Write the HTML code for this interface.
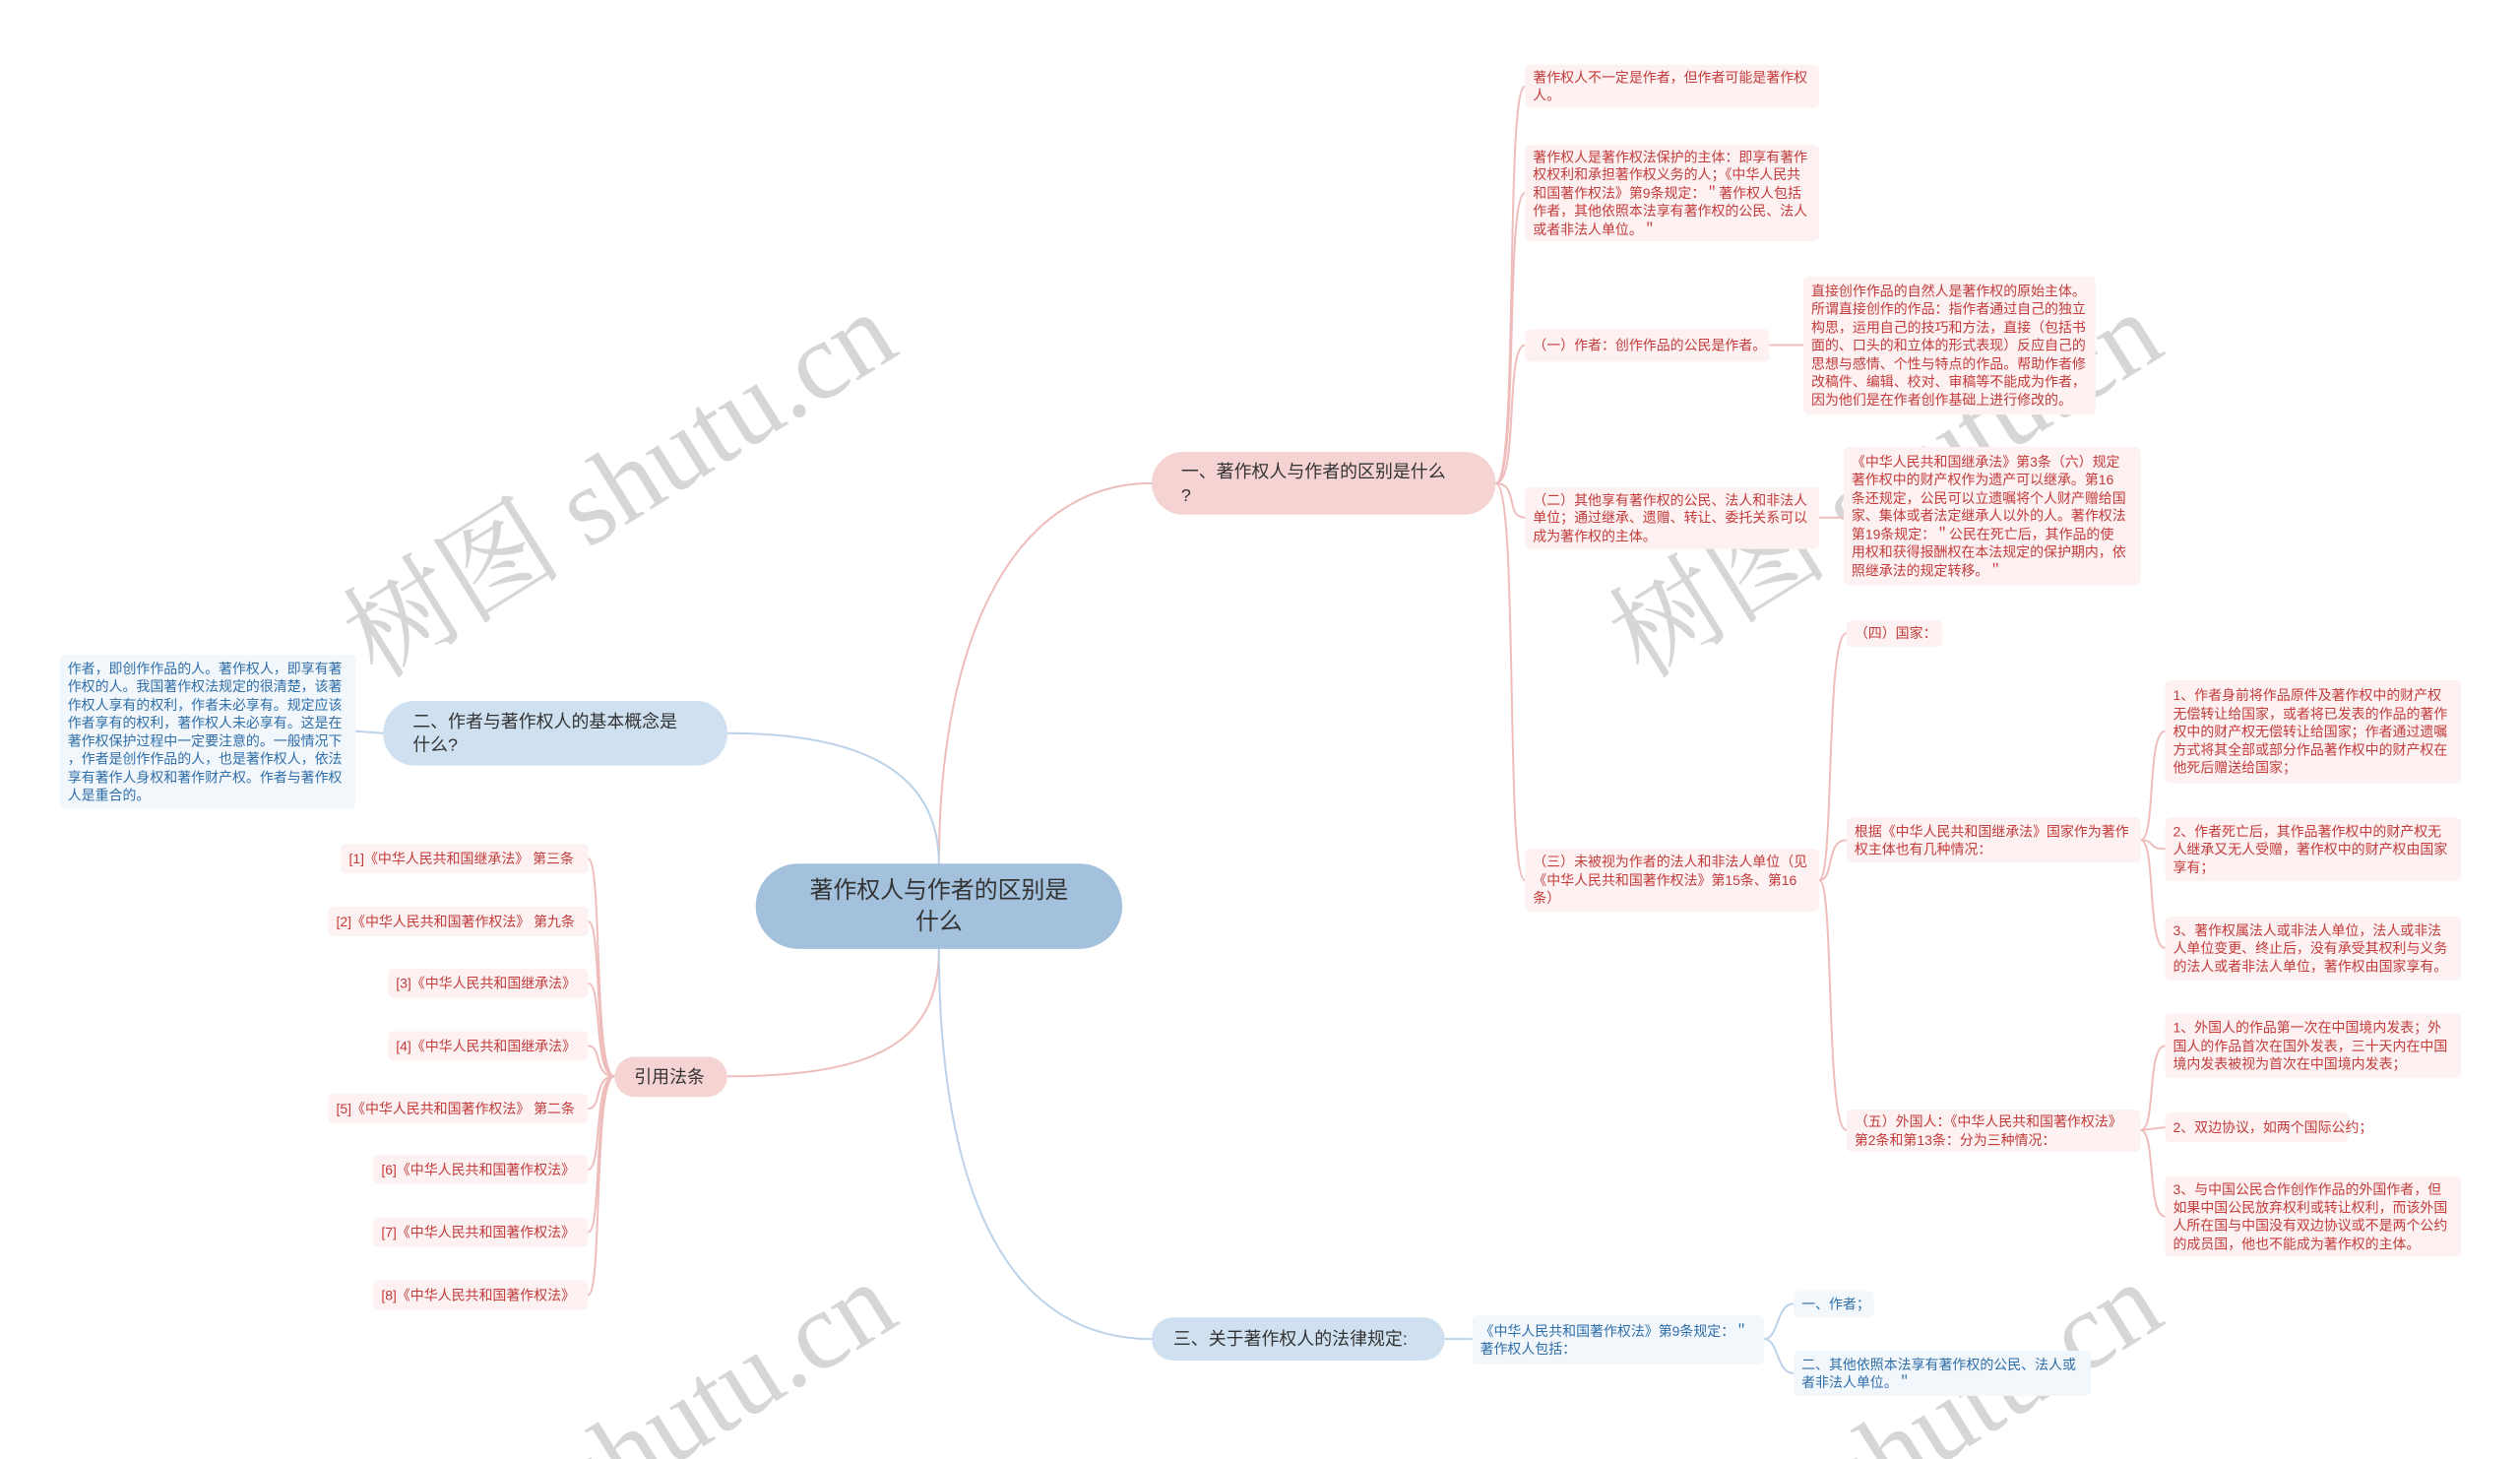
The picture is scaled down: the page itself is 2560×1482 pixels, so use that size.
<!DOCTYPE html>
<html style="overflow:hidden;width:2560px;height:1482px"><head><meta charset="utf-8">
<style>
*{margin:0;padding:0;box-sizing:border-box}
html,body{width:2560px;height:1482px;overflow:hidden;background:#fff}
#c{position:relative;width:2560px;height:1482px;overflow:hidden;font-family:"Liberation Sans","Noto Sans CJK SC",sans-serif}
#s{position:absolute;left:0;top:0;width:2560px;height:1482px;transform:scale(0.9957);transform-origin:0 0}
.n{position:absolute;display:flex;align-items:center;white-space:nowrap}
.lp{background:#fdf1f1;color:#c33b3b;font-size:14px;line-height:18.5px;padding:0 8px;border-radius:5px}
.lb{background:#f2f7fc;color:#2f6ea8;font-size:14px;line-height:18.5px;padding:0 8px;border-radius:5px}
.bp{background:#f6d3d3;color:#333;font-size:18px;line-height:24px;padding:0 30px;border-radius:32px}
.bb{background:#cfe0f0;color:#333;font-size:18px;line-height:24px;padding:0 30px;border-radius:32px}
svg{position:absolute;left:0;top:0}
</style></head><body><div id="c">
<svg width="2560" height="1482" style="overflow:hidden">
<g font-family="Liberation Serif, Noto Serif CJK SC, serif" font-size="112" fill="rgba(200,200,200,0.75)" text-anchor="middle" dominant-baseline="middle">
<text transform="translate(636,503) rotate(-32)">树图 shutu.cn</text>
<text transform="translate(1922,503) rotate(-32)">树图 shutu.cn</text>
<text transform="translate(636,1488) rotate(-32)">树图 shutu.cn</text>
<text transform="translate(1922,1488) rotate(-32)">树图 shutu.cn</text>
</g>
</svg>
<div id="s">
<svg width="2560" height="1482" fill="none" stroke-width="2">
<g stroke="#efbcbc">
<path d="M958 882 C958 640,1040 493,1175 493"/>
<path d="M958 968 C958 1060,900 1098,742 1098"/>
<path d="M1526 493 C1550 493,1535 88,1556 88"/>
<path d="M1526 493 C1550 493,1535 197,1556 197"/>
<path d="M1526 493 C1550 493,1535 352,1556 352"/>
<path d="M1526 493 C1550 493,1535 528,1556 528"/>
<path d="M1526 493 C1550 493,1535 898,1556 898"/>
<path d="M1805 352 L1840 352"/>
<path d="M1856 528 L1881 528"/>
<path d="M1856 898 C1872 898,1862 646,1884 646"/>
<path d="M1856 898 C1872 898,1862 857,1884 857"/>
<path d="M1856 898 C1872 898,1862 1153,1884 1153"/>
<path d="M2184 857 C2200 857,2190 746,2209 746"/>
<path d="M2184 857 C2200 857,2190 866,2209 866"/>
<path d="M2184 857 C2200 857,2190 967,2209 967"/>
<path d="M2184 1153 C2200 1153,2190 1067,2209 1067"/>
<path d="M2184 1153 L2209 1150"/>
<path d="M2184 1153 C2200 1153,2190 1241,2209 1241"/>
<path d="M627 1098 C605 1098,615 876,600 876"/>
<path d="M627 1098 C605 1098,615 940,600 940"/>
<path d="M627 1098 C605 1098,615 1003,600 1003"/>
<path d="M627 1098 C605 1098,615 1067,600 1067"/>
<path d="M627 1098 C605 1098,615 1131,600 1131"/>
<path d="M627 1098 C605 1098,615 1193,600 1193"/>
<path d="M627 1098 C605 1098,615 1257,600 1257"/>
<path d="M627 1098 C605 1098,615 1321,600 1321"/>
</g>
<g stroke="#bcd2e8">
<path d="M958 882 C958 800,900 748,742 748"/>
<path d="M958 968 C958 1200,1020 1366,1175 1366"/>
<path d="M391 748 L363 746"/>
<path d="M1474 1366 L1502 1366"/>
<path d="M1800 1366 C1815 1366,1812 1330,1830 1330"/>
<path d="M1800 1366 C1815 1366,1812 1401,1830 1401"/>
</g>
</svg>

<div class="n" style="left:771px;top:881px;width:374px;height:87px;background:#a3c1dc;border-radius:44px;justify-content:center;text-align:center;font-size:24px;line-height:32px;color:#333">著作权人与作者的区别是<br>什么</div>

<div class="n bp" style="left:1175px;top:461px;width:351px;height:64px">一、著作权人与作者的区别是什么<br>?</div>
<div class="n bb" style="left:391px;top:715px;width:351px;height:66px">二、作者与著作权人的基本概念是<br>什么?</div>
<div class="n bp" style="left:627px;top:1078px;width:115px;height:41px;padding:0 20px">引用法条</div>
<div class="n bb" style="left:1175px;top:1344px;width:299px;height:44px;padding:0 22px">三、关于著作权人的法律规定:</div>

<div class="n lp" style="left:1556px;top:66px;width:300px;height:44px">著作权人不一定是作者，但作者可能是著作权<br>人。</div>
<div class="n lp" style="left:1556px;top:148px;width:300px;height:98px">著作权人是著作权法保护的主体：即享有著作<br>权权利和承担著作权义务的人；《中华人民共<br>和国著作权法》第9条规定：＂著作权人包括<br>作者，其他依照本法享有著作权的公民、法人<br>或者非法人单位。＂</div>
<div class="n lp" style="left:1556px;top:336px;width:249px;height:33px">（一）作者：创作作品的公民是作者。</div>
<div class="n lp" style="left:1840px;top:282px;width:298px;height:141px">直接创作作品的自然人是著作权的原始主体。<br>所谓直接创作的作品：指作者通过自己的独立<br>构思，运用自己的技巧和方法，直接（包括书<br>面的、口头的和立体的形式表现）反应自己的<br>思想与感情、个性与特点的作品。帮助作者修<br>改稿件、编辑、校对、审稿等不能成为作者，<br>因为他们是在作者创作基础上进行修改的。</div>
<div class="n lp" style="left:1556px;top:497px;width:300px;height:63px">（二）其他享有著作权的公民、法人和非法人<br>单位；通过继承、遗赠、转让、委托关系可以<br>成为著作权的主体。</div>
<div class="n lp" style="left:1881px;top:456px;width:303px;height:141px">《中华人民共和国继承法》第3条（六）规定<br>著作权中的财产权作为遗产可以继承。第16<br>条还规定，公民可以立遗嘱将个人财产赠给国<br>家、集体或者法定继承人以外的人。著作权法<br>第19条规定：＂公民在死亡后，其作品的使<br>用权和获得报酬权在本法规定的保护期内，依<br>照继承法的规定转移。＂</div>
<div class="n lp" style="left:1556px;top:866px;width:300px;height:64px">（三）未被视为作者的法人和非法人单位（见<br>《中华人民共和国著作权法》第15条、第16<br>条）</div>
<div class="n lp" style="left:1884px;top:633px;width:98px;height:27px">（四）国家：</div>
<div class="n lp" style="left:1884px;top:834px;width:300px;height:46px">根据《中华人民共和国继承法》国家作为著作<br>权主体也有几种情况：</div>
<div class="n lp" style="left:1884px;top:1132px;width:300px;height:43px">（五）外国人：《中华人民共和国著作权法》<br>第2条和第13条：分为三种情况：</div>
<div class="n lp" style="left:2209px;top:694px;width:302px;height:105px">1、作者身前将作品原件及著作权中的财产权<br>无偿转让给国家，或者将已发表的作品的著作<br>权中的财产权无偿转让给国家；作者通过遗嘱<br>方式将其全部或部分作品著作权中的财产权在<br>他死后赠送给国家；</div>
<div class="n lp" style="left:2209px;top:834px;width:302px;height:65px">2、作者死亡后，其作品著作权中的财产权无<br>人继承又无人受赠，著作权中的财产权由国家<br>享有；</div>
<div class="n lp" style="left:2209px;top:935px;width:302px;height:65px">3、著作权属法人或非法人单位，法人或非法<br>人单位变更、终止后，没有承受其权利与义务<br>的法人或者非法人单位，著作权由国家享有。</div>
<div class="n lp" style="left:2209px;top:1034px;width:302px;height:66px">1、外国人的作品第一次在中国境内发表；外<br>国人的作品首次在国外发表，三十天内在中国<br>境内发表被视为首次在中国境内发表；</div>
<div class="n lp" style="left:2209px;top:1135px;width:187px;height:30px">2、双边协议，如两个国际公约；</div>
<div class="n lp" style="left:2209px;top:1200px;width:302px;height:82px">3、与中国公民合作创作作品的外国作者，但<br>如果中国公民放弃权利或转让权利，而该外国<br>人所在国与中国没有双边协议或不是两个公约<br>的成员国，他也不能成为著作权的主体。</div>

<div class="n lb" style="left:61px;top:668px;width:302px;height:157px">作者，即创作作品的人。著作权人，即享有著<br>作权的人。我国著作权法规定的很清楚，该著<br>作权人享有的权利，作者未必享有。规定应该<br>作者享有的权利，著作权人未必享有。这是在<br>著作权保护过程中一定要注意的。一般情况下<br>，作者是创作作品的人，也是著作权人，依法<br>享有著作人身权和著作财产权。作者与著作权<br>人是重合的。</div>

<div class="n lp" style="left:348px;top:861px;width:252px;height:30px">[1]《中华人民共和国继承法》 第三条</div>
<div class="n lp" style="left:335px;top:925px;width:265px;height:30px">[2]《中华人民共和国著作权法》 第九条</div>
<div class="n lp" style="left:396px;top:988px;width:204px;height:30px">[3]《中华人民共和国继承法》</div>
<div class="n lp" style="left:396px;top:1052px;width:204px;height:30px">[4]《中华人民共和国继承法》</div>
<div class="n lp" style="left:335px;top:1116px;width:265px;height:30px">[5]《中华人民共和国著作权法》 第二条</div>
<div class="n lp" style="left:381px;top:1178px;width:219px;height:30px">[6]《中华人民共和国著作权法》</div>
<div class="n lp" style="left:381px;top:1242px;width:219px;height:30px">[7]《中华人民共和国著作权法》</div>
<div class="n lp" style="left:381px;top:1306px;width:219px;height:30px">[8]《中华人民共和国著作权法》</div>

<div class="n lb" style="left:1502px;top:1342px;width:298px;height:50px">《中华人民共和国著作权法》第9条规定：＂<br>著作权人包括：</div>
<div class="n lb" style="left:1830px;top:1317px;width:82px;height:27px">一、作者；</div>
<div class="n lb" style="left:1830px;top:1378px;width:303px;height:46px">二、其他依照本法享有著作权的公民、法人或<br>者非法人单位。＂</div>
</div>
</div></body></html>
